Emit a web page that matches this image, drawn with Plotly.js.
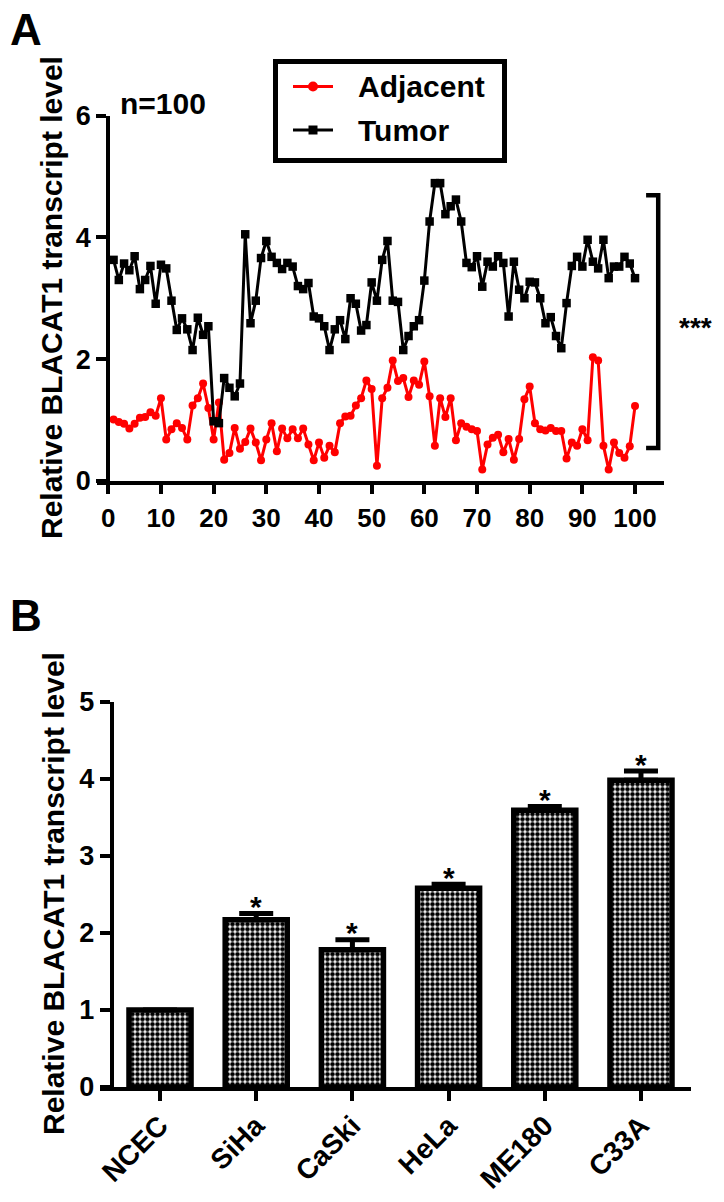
<!DOCTYPE html>
<html>
<head>
<meta charset="utf-8">
<script src="https://cdn.plot.ly/plotly-3.0.1.min.js"></script>
<style>html,body{margin:0;padding:0;background:#fff;}#chart{width:724px;height:1202px;}</style>
</head>
<body>
<div id="chart"></div>
<script>
// ---- Panel A data ----
const sampleIdx = Array.from({length: 100}, (_, k) => k + 1);
const tumorValues = [3.63,3.30,3.57,3.46,3.69,3.15,3.30,3.53,2.91,3.55,
  3.49,2.96,2.48,2.67,2.49,2.15,2.68,2.40,2.54,0.98,
  0.95,1.69,1.53,1.39,1.60,4.05,2.59,2.96,3.66,3.94,
  3.68,3.58,3.48,3.58,3.52,3.20,3.15,3.25,2.70,2.67,
  2.54,2.15,2.49,2.64,2.33,3.00,2.91,2.47,2.56,3.26,
  2.96,3.63,3.94,2.96,2.94,2.15,2.38,2.54,2.64,3.29,
  4.26,4.89,4.89,4.38,4.51,4.62,4.26,3.58,3.51,3.69,
  3.19,3.60,3.52,3.69,3.58,2.70,3.60,3.14,3.00,3.27,
  3.26,3.00,2.59,2.69,2.38,2.18,2.92,3.53,3.68,3.52,
  3.96,3.60,3.49,3.96,3.33,3.52,3.52,3.68,3.57,3.33];
const adjacentValues = [1.01,0.97,0.94,0.86,0.94,1.04,1.05,1.13,1.07,1.36,
  0.68,0.85,0.95,0.87,0.68,1.24,1.36,1.60,1.20,0.68,
  1.29,0.35,0.46,0.87,0.53,0.64,0.86,0.63,0.34,0.68,
  0.95,0.49,0.86,0.70,0.85,0.70,0.86,0.60,0.34,0.63,
  0.38,0.58,0.47,0.95,1.06,1.07,1.24,1.36,1.65,1.51,
  0.25,1.36,1.53,1.98,1.64,1.69,1.38,1.65,1.58,1.96,
  1.39,0.58,1.36,1.05,1.36,0.67,0.95,0.89,0.85,0.82,
  0.19,0.60,0.71,0.76,0.47,0.69,0.35,0.69,1.34,1.55,
  0.95,0.85,0.83,0.87,0.82,0.82,0.37,0.63,0.58,0.85,
  0.67,2.03,1.98,0.58,0.19,0.63,0.46,0.38,0.57,1.23];
const seriesNames = ["Adjacent", "Tumor"];
const seriesColors = ["#ff0000", "#000000"];
const xTicksA = [0,10,20,30,40,50,60,70,80,90,100];
const yTicksA = [0,2,4,6];
const bracketTop = 4.69, bracketBottom = 0.54, sigA = "***";

// ---- Panel B data ----
const cellLines = ["NCEC","SiHa","CaSki","HeLa","ME180","C33A"];
const cellMeans = [1.00, 2.17, 1.78, 2.58, 3.59, 3.98];
const cellErrors = [0.00, 0.08, 0.13, 0.05, 0.05, 0.12];
const cellSig = ["", "*", "*", "*", "*", "*"];
const yTicksB = [0,1,2,3,4,5];

const yTitle = "Relative BLACAT1 transcript level";
const FONT = "Liberation Sans, Arial, sans-serif";
const W = 724, H = 1202;
const px = v => v / W;
const py = v => (H - v) / H;
const bold = (size) => ({family: FONT, size: size, weight: "bold", color: "#000"});

const traces = [
  {
    x: sampleIdx, y: adjacentValues, name: seriesNames[0],
    type: "scatter", mode: "lines+markers", showlegend: false,
    line: {color: seriesColors[0], width: 3},
    marker: {symbol: "circle", size: 8, color: seriesColors[0]},
    xaxis: "x", yaxis: "y", cliponaxis: false
  },
  {
    x: sampleIdx, y: tumorValues, name: seriesNames[1],
    type: "scatter", mode: "lines+markers", showlegend: false,
    line: {color: seriesColors[1], width: 3},
    marker: {symbol: "square", size: 8.5, color: seriesColors[1]},
    xaxis: "x", yaxis: "y", cliponaxis: false
  },
  {
    x: cellLines, y: cellMeans, type: "bar", showlegend: false,
    xaxis: "x2", yaxis: "y2", width: 0.645,
    marker: {
      color: "#ffffff",
      line: {color: "#000000", width: 5.5},
      pattern: {shape: ".", fgcolor: "#000000", bgcolor: "#ffffff", size: 5, solidity: 0.65}
    },
    error_y: {type: "data", array: cellErrors, arrayminus: cellErrors.map(() => 0),
      symmetric: false, color: "#000000", thickness: 5, width: 17, visible: true}
  }
];

const annotations = [
  {xref: "paper", yref: "paper", x: px(26), y: py(30), xanchor: "center", yanchor: "middle",
   text: "<b>A</b>", showarrow: false, font: bold(44)},
  {xref: "paper", yref: "paper", x: px(26), y: py(615), xanchor: "center", yanchor: "middle",
   text: "<b>B</b>", showarrow: false, font: bold(44)},
  {xref: "paper", yref: "paper", x: px(51), y: py(298), xanchor: "center", yanchor: "middle",
   text: "<b>" + yTitle + "</b>", textangle: -90, showarrow: false, font: bold(30)},
  {xref: "paper", yref: "paper", x: px(53), y: py(894), xanchor: "center", yanchor: "middle",
   text: "<b>" + yTitle + "</b>", textangle: -90, showarrow: false, font: bold(30)},
  {xref: "paper", yref: "paper", x: px(163), y: py(103), xanchor: "center", yanchor: "middle",
   text: "<b>n=100</b>", showarrow: false, font: bold(30)},
  {xref: "paper", yref: "y", x: px(695.5), y: (bracketTop + bracketBottom) / 2, xanchor: "center", yanchor: "middle",
   text: "<b>" + sigA + "</b>", showarrow: false, yshift: -6, font: bold(28)},
  // legend texts
  {xref: "paper", yref: "paper", x: px(356), y: py(86.5), xanchor: "left", yanchor: "middle",
   text: "<b>" + seriesNames[0] + "</b>", showarrow: false, font: bold(30)},
  {xref: "paper", yref: "paper", x: px(356), y: py(130), xanchor: "left", yanchor: "middle",
   text: "<b>" + seriesNames[1] + "</b>", showarrow: false, font: bold(30)}
];
cellLines.forEach((c, i) => {
  if (cellSig[i]) {
    annotations.push({xref: "x2", yref: "y2", x: c, y: cellMeans[i] + cellErrors[i],
      text: "<b>" + cellSig[i] + "</b>", showarrow: false, xanchor: "center", yanchor: "middle", yshift: 7,
      font: bold(30)});
  }
});

const shapes = [
  // significance bracket (panel A)
  {type: "path", xref: "x", yref: "y",
   path: `M 102.1 ${bracketTop} L 104.4 ${bracketTop} L 104.4 ${bracketBottom} L 102.1 ${bracketBottom}`,
   line: {color: "#000", width: 4.5}},
  // legend frame
  {type: "rect", xref: "paper", yref: "paper", x0: px(275.5), x1: px(504.5), y0: py(160.5), y1: py(61.5),
   line: {color: "#000", width: 5}, fillcolor: "rgba(0,0,0,0)"},
  // legend swatches
  {type: "line", xref: "paper", yref: "paper", x0: px(293), x1: px(333), y0: py(86.5), y1: py(86.5),
   line: {color: seriesColors[0], width: 3}},
  {type: "circle", xref: "paper", yref: "paper", x0: px(308), x1: px(318), y0: py(91.5), y1: py(81.5),
   line: {color: seriesColors[0], width: 0}, fillcolor: seriesColors[0]},
  {type: "line", xref: "paper", yref: "paper", x0: px(293), x1: px(333), y0: py(130), y1: py(130),
   line: {color: seriesColors[1], width: 3}},
  {type: "rect", xref: "paper", yref: "paper", x0: px(308.5), x1: px(317.5), y0: py(134.5), y1: py(125.5),
   line: {color: seriesColors[1], width: 0}, fillcolor: seriesColors[1]}
];

const axisCommon = {
  showgrid: false, zeroline: false,
  showline: true, linecolor: "#000", linewidth: 4,
  ticks: "outside", tickwidth: 4, tickcolor: "#000"
};

const layout = {
  width: W, height: H,
  margin: {l: 0, r: 0, t: 0, b: 0},
  paper_bgcolor: "#fff", plot_bgcolor: "rgba(0,0,0,0)",
  font: {family: FONT, color: "#000"},
  showlegend: false,
  xaxis: Object.assign({}, axisCommon, {
    domain: [px(96.7), px(664)], range: [-2.2, 105.5],
    anchor: "y", ticklen: 9,
    tickmode: "array", tickvals: xTicksA, ticktext: xTicksA.map(String),
    tickfont: bold(26), ticklabelstandoff: 2
  }),
  yaxis: Object.assign({}, axisCommon, {
    domain: [py(481), py(115.5)], range: [0, 6],
    anchor: "free", position: px(108.3), ticklen: 10,
    tickmode: "array", tickvals: yTicksA, ticktext: yTicksA.map(String),
    tickfont: bold(27)
  }),
  xaxis2: Object.assign({}, axisCommon, {
    domain: [px(100), px(691)], range: [-0.624, 5.52],
    anchor: "y2", ticklen: 10, type: "category",
    tickangle: -45, tickfont: bold(28), ticklabelstandoff: -3
  }),
  yaxis2: Object.assign({}, axisCommon, {
    domain: [py(1087), py(701.7)], range: [0, 5],
    anchor: "free", position: px(111.7), ticklen: 10,
    tickmode: "array", tickvals: yTicksB, ticktext: yTicksB.map(String),
    tickfont: bold(27)
  }),
  annotations: annotations,
  shapes: shapes
};

Plotly.newPlot("chart", traces, layout, {staticPlot: true, displayModeBar: false});
</script>
</body>
</html>
